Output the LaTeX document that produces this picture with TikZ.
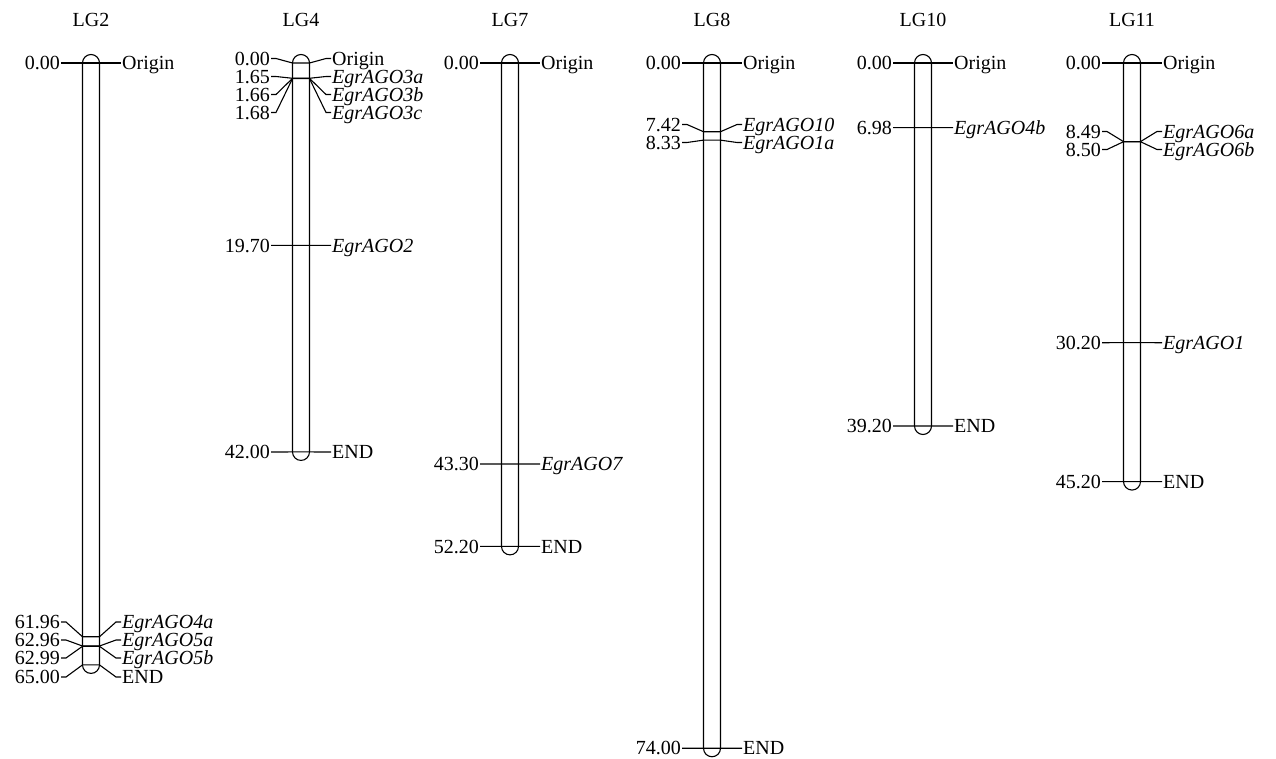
\documentclass[tikz,border=0pt]{standalone}
\usepackage{fontspec}
\setmainfont{Liberation Serif}
\usetikzlibrary{calc}

\begin{document}
\begin{tikzpicture}[
  x=1pt, y=-1pt,
  font=\fontsize{20}{24}\selectfont,
  chrom/.style={draw, line width=1.1pt, rounded corners=8.5pt},
  cmlabel/.style={anchor=east, inner sep=1pt, text height=13.2pt, text depth=0pt},
  gene/.style={anchor=west, inner sep=1pt, text height=13.2pt, text depth=0pt},
  link/.style={line width=1.1pt},
  title/.style={inner sep=0pt}
]
\useasboundingbox (0,0) rectangle (1276,758);

% LG2
\def\cx{91}
\node[title] (lg2) at (\cx,20) {LG2};
\draw[chrom] ({\cx-8.5},54.5) rectangle ({\cx+8.5},{63+9.26*65+8.5});
\foreach \p/\ly/\g/\n in {0.00/63/Origin/a, 61.96/622/\textit{EgrAGO4a}/b,
    62.96/640/\textit{EgrAGO5a}/c, 62.99/658/\textit{EgrAGO5b}/d, 65.00/677/END/e}{
  \node[cmlabel] (lg2l\n) at ({\cx-30},\ly) {\p};
  \node[gene] (lg2r\n) at ({\cx+30},\ly) {\g};
  \draw[link] (lg2l\n.east) -- ++(5,0) -- ({\cx-8.5},{63+9.26*\p}) -- ({\cx+8.5},{63+9.26*\p})
    -- ({\cx+25},\ly) -- (lg2r\n.west);
}

% LG4
\def\cx{301}
\node[title] (lg4) at (\cx,20) {LG4};
\draw[chrom] ({\cx-8.5},54.5) rectangle ({\cx+8.5},{63+9.26*42+8.5});
\foreach \p/\ly/\g/\n in {0.00/58.5/Origin/a, 1.65/76.5/\textit{EgrAGO3a}/b,
    1.66/94.5/\textit{EgrAGO3b}/c, 1.68/112.5/\textit{EgrAGO3c}/d,
    19.70/245.4/\textit{EgrAGO2}/e, 42.00/452/END/f}{
  \node[cmlabel] (lg4l\n) at ({\cx-30},\ly) {\p};
  \node[gene] (lg4r\n) at ({\cx+30},\ly) {\g};
  \draw[link] (lg4l\n.east) -- ++(5,0) -- ({\cx-8.5},{63+9.26*\p}) -- ({\cx+8.5},{63+9.26*\p})
    -- ({\cx+25},\ly) -- (lg4r\n.west);
}

% LG7
\def\cx{510}
\node[title] (lg7) at (\cx,20) {LG7};
\draw[chrom] ({\cx-8.5},54.5) rectangle ({\cx+8.5},{63+9.26*52.2+8.5});
\foreach \p/\ly/\g/\n in {0.00/63/Origin/a, 43.30/464/\textit{EgrAGO7}/b, 52.20/546.4/END/c}{
  \node[cmlabel] (lg7l\n) at ({\cx-30},\ly) {\p};
  \node[gene] (lg7r\n) at ({\cx+30},\ly) {\g};
  \draw[link] (lg7l\n.east) -- ++(5,0) -- ({\cx-8.5},{63+9.26*\p}) -- ({\cx+8.5},{63+9.26*\p})
    -- ({\cx+25},\ly) -- (lg7r\n.west);
}

% LG8
\def\cx{712}
\node[title] (lg8) at (\cx,20) {LG8};
\draw[chrom] ({\cx-8.5},54.5) rectangle ({\cx+8.5},{63+9.26*74+8.5});
\foreach \p/\ly/\g/\n in {0.00/63/Origin/a, 7.42/124.5/\textit{EgrAGO10}/b,
    8.33/142.5/\textit{EgrAGO1a}/c, 74.00/748.2/END/d}{
  \node[cmlabel] (lg8l\n) at ({\cx-30},\ly) {\p};
  \node[gene] (lg8r\n) at ({\cx+30},\ly) {\g};
  \draw[link] (lg8l\n.east) -- ++(5,0) -- ({\cx-8.5},{63+9.26*\p}) -- ({\cx+8.5},{63+9.26*\p})
    -- ({\cx+25},\ly) -- (lg8r\n.west);
}

% LG10
\def\cx{923}
\node[title] (lg10) at (\cx,20) {LG10};
\draw[chrom] ({\cx-8.5},54.5) rectangle ({\cx+8.5},{63+9.26*39.2+8.5});
\foreach \p/\ly/\g/\n in {0.00/63/Origin/a, 6.98/127.6/\textit{EgrAGO4b}/b, 39.20/426/END/c}{
  \node[cmlabel] (lg10l\n) at ({\cx-30},\ly) {\p};
  \node[gene] (lg10r\n) at ({\cx+30},\ly) {\g};
  \draw[link] (lg10l\n.east) -- ++(5,0) -- ({\cx-8.5},{63+9.26*\p}) -- ({\cx+8.5},{63+9.26*\p})
    -- ({\cx+25},\ly) -- (lg10r\n.west);
}

% LG11
\def\cx{1132}
\node[title] (lg11) at (\cx,20) {LG11};
\draw[chrom] ({\cx-8.5},54.5) rectangle ({\cx+8.5},{63+9.26*45.2+8.5});
\foreach \p/\ly/\g/\n in {0.00/63/Origin/a, 8.49/131.5/\textit{EgrAGO6a}/b,
    8.50/149.5/\textit{EgrAGO6b}/c, 30.20/342.7/\textit{EgrAGO1}/d, 45.20/481.6/END/e}{
  \node[cmlabel] (lg11l\n) at ({\cx-30},\ly) {\p};
  \node[gene] (lg11r\n) at ({\cx+30},\ly) {\g};
  \draw[link] (lg11l\n.east) -- ++(5,0) -- ({\cx-8.5},{63+9.26*\p}) -- ({\cx+8.5},{63+9.26*\p})
    -- ({\cx+25},\ly) -- (lg11r\n.west);
}
\end{tikzpicture}
\end{document}
